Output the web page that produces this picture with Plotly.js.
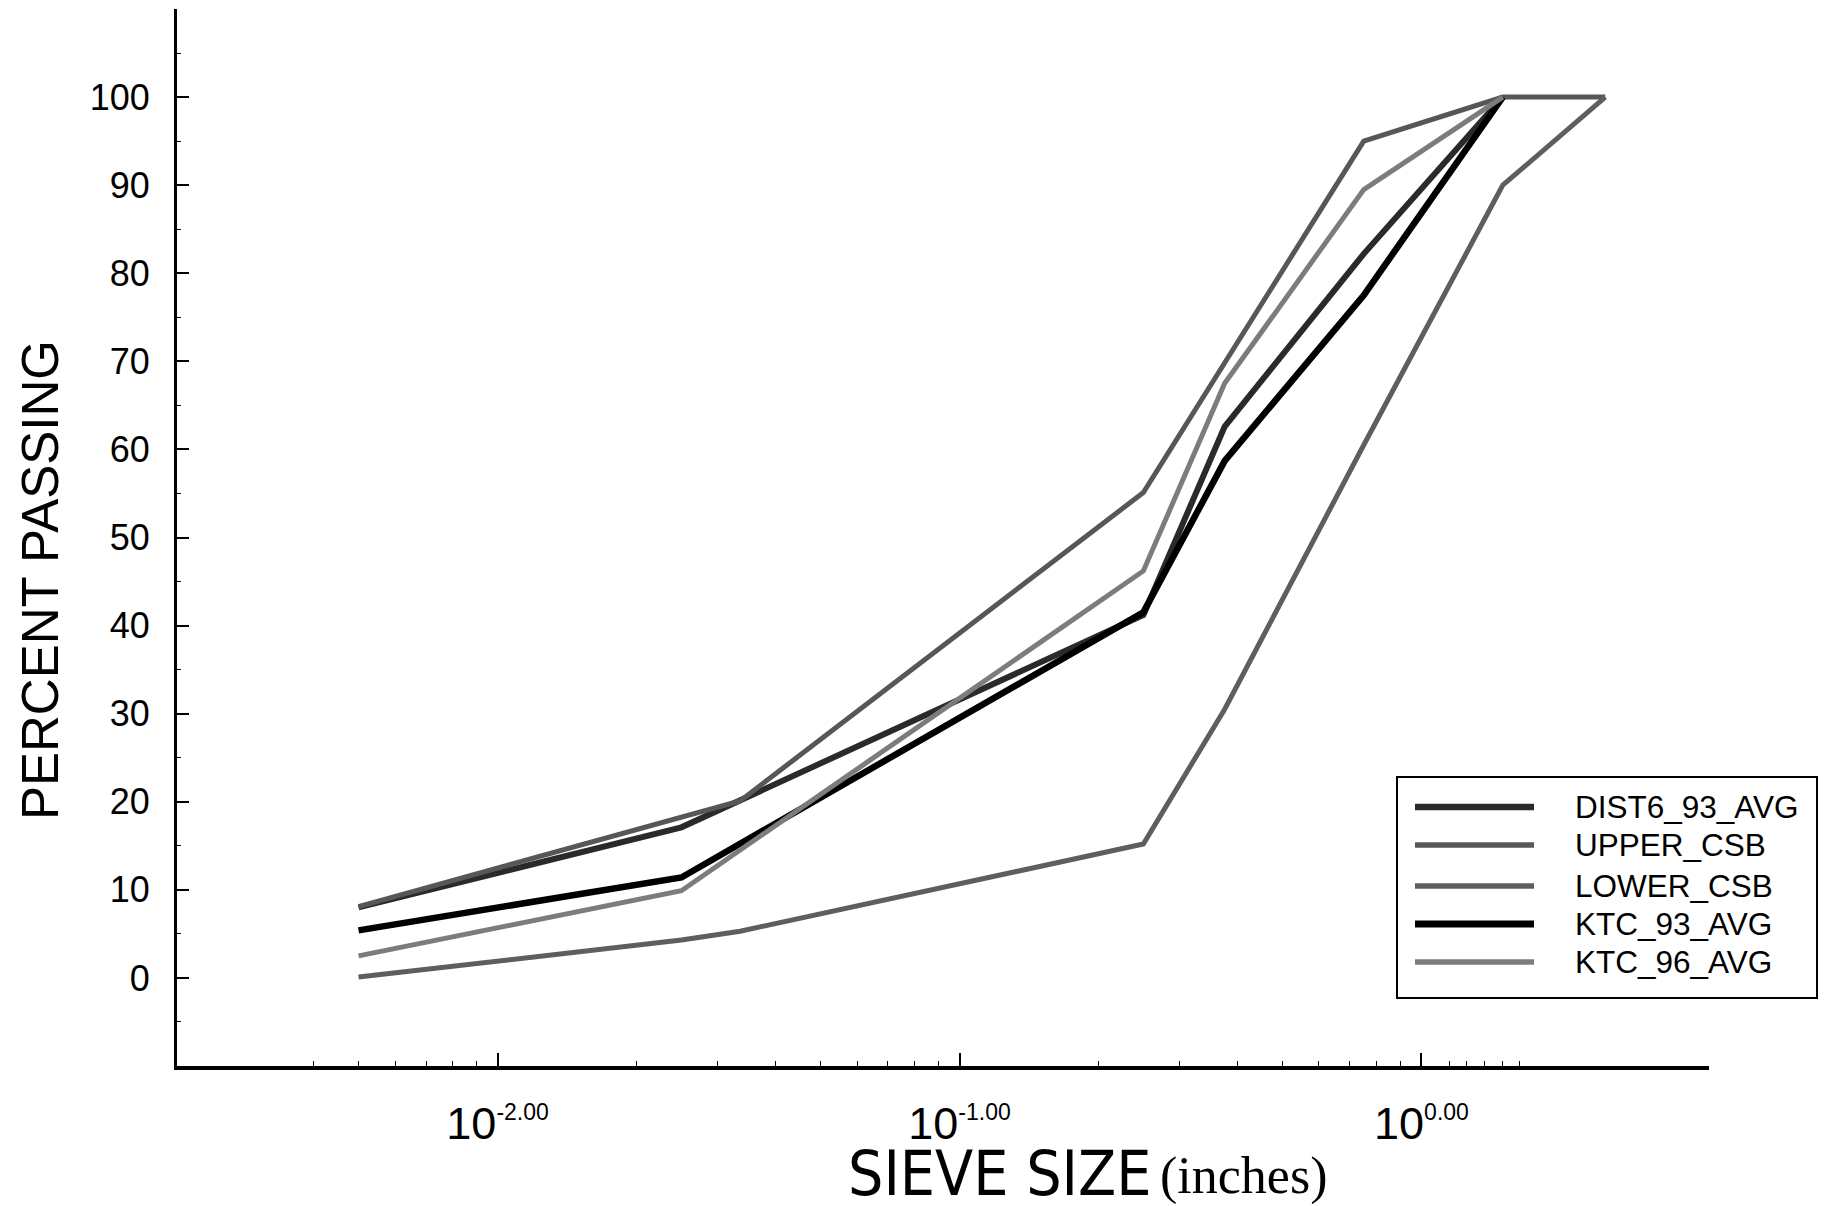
<!DOCTYPE html>
<html>
<head>
<meta charset="utf-8">
<script src="https://cdn.plot.ly/plotly-3.0.1.min.js"></script>
<style>html,body{margin:0;padding:0;background:#fff;}#chart{width:1826px;height:1206px;}</style>
</head>
<body>
<div id="chart"></div>
<script>
// ---- data ----
var seriesNames = ["DIST6_93_AVG", "UPPER_CSB", "LOWER_CSB", "KTC_93_AVG", "KTC_96_AVG"];

var dist6X = [0.005, 0.025, 0.25, 0.375, 0.75, 1.5];
var dist6Y = [8.0, 17.1, 41.2, 62.6, 82.2, 100];

var upperX = [0.005, 0.025, 0.0335, 0.25, 0.75, 1.5, 2.5];
var upperY = [8.1, 18.2, 20.1, 55.1, 95.0, 100, 100];

var lowerX = [0.005, 0.025, 0.0335, 0.25, 0.375, 0.75, 1.5, 2.5];
var lowerY = [0.1, 4.3, 5.3, 15.2, 30.5, 60.5, 90.0, 100];

var ktc93X = [0.005, 0.025, 0.25, 0.375, 0.75, 1.5];
var ktc93Y = [5.4, 11.4, 41.5, 58.7, 77.5, 100];

var ktc96X = [0.005, 0.025, 0.25, 0.375, 0.75, 1.5];
var ktc96Y = [2.5, 9.9, 46.2, 67.5, 89.5, 100];

var xTickVals = [0.01, 0.1, 1];
var xTickExp = ["-2.00", "-1.00", "0.00"];
var yTickVals = [0, 10, 20, 30, 40, 50, 60, 70, 80, 90, 100];

// ---- styles ----
var colors = ["#2a2a2a", "#575757", "#5e5e5e", "#000000", "#7c7c7c"];
var widths = [6, 5, 5, 6.5, 5];
var xs = [dist6X, upperX, lowerX, ktc93X, ktc96X];
var ys = [dist6Y, upperY, lowerY, ktc93Y, ktc96Y];

var traces = seriesNames.map(function (n, i) {
  return {
    type: "scatter", mode: "lines", name: n,
    x: xs[i], y: ys[i],
    line: { color: colors[i], width: widths[i] },
    hoverinfo: "skip"
  };
});

var W = 1826, H = 1206;
var M = { l: 177, r: 117, t: 9, b: 140 };
var PW = W - M.l - M.r, PH = H - M.t - M.b;
function px(x) { return (x - M.l) / PW; }
function py(y) { return (H - M.b - y) / PH; }

var minorX = [0.004, 0.005, 0.006, 0.007, 0.008, 0.009,
  0.02, 0.03, 0.04, 0.05, 0.06, 0.07, 0.08, 0.09,
  0.2, 0.3, 0.4, 0.5, 0.6, 0.7, 0.8, 0.9,
  1.15, 1.25, 1.37, 1.5, 1.63];
var minorY = [-5, 5, 15, 25, 35, 45, 55, 65, 75, 85, 95, 105];

// legend (drawn as shapes + text)
var legRows = [807, 845, 886, 924, 962];
var shapes = [{
  type: "rect", xref: "paper", yref: "paper",
  x0: px(1397), x1: px(1817), y0: py(998), y1: py(777),
  line: { color: "#000", width: 2 }, fillcolor: "rgba(0,0,0,0)"
}];
var annotations = [];
seriesNames.forEach(function (n, i) {
  shapes.push({
    type: "line", xref: "paper", yref: "paper",
    x0: px(1415), x1: px(1534), y0: py(legRows[i]), y1: py(legRows[i]),
    line: { color: colors[i], width: widths[i] + 0.5 }
  });
  annotations.push({
    xref: "paper", yref: "paper", x: px(1573), y: py(legRows[i]),
    xanchor: "left", yanchor: "middle", showarrow: false, text: n,
    font: { family: "Liberation Sans, Arial, sans-serif", size: 31.5, color: "#000" }
  });
});

// axis titles
annotations.push({
  xref: "paper", yref: "paper", x: px(40), y: py(580),
  xanchor: "center", yanchor: "middle", showarrow: false, textangle: -90,
  text: "PERCENT PASSING",
  font: { family: "Liberation Sans, Arial, sans-serif", size: 51, color: "#000" }
});
annotations.push({
  xref: "paper", yref: "paper", x: px(846), y: py(1173),
  xanchor: "left", yanchor: "middle", showarrow: false,
  text: "SIEVE SIZE",
  font: { family: "Liberation Sans Narrow, Arial Narrow, DejaVu Sans Condensed, sans-serif", size: 62, color: "#000" }
});
annotations.push({
  xref: "paper", yref: "paper", x: px(1158), y: py(1176),
  xanchor: "left", yanchor: "middle", showarrow: false,
  text: "(inches)",
  font: { family: "Liberation Serif, Times New Roman, serif", size: 52, color: "#000" }
});

var layout = {
  width: W, height: H,
  margin: M,
  paper_bgcolor: "#fff", plot_bgcolor: "#fff",
  showlegend: false,
  xaxis: {
    type: "log", range: [-2.694, 0.6225],
    showline: true, linewidth: 4, linecolor: "#000", mirror: false,
    showgrid: false, zeroline: false,
    ticks: "inside", ticklen: 13, tickwidth: 2, tickcolor: "#000",
    tickmode: "array", tickvals: xTickVals,
    ticktext: xTickExp.map(function (e) { return '10<sup><span style="font-size:23px">' + e + '</span></sup>'; }),
    tickfont: { family: "Liberation Sans, Arial, sans-serif", size: 45, color: "#000" },
    ticklabelstandoff: 15,
    minor: { ticks: "inside", ticklen: 5, tickwidth: 1, tickcolor: "#000", tickmode: "array", tickvals: minorX, showgrid: false }
  },
  yaxis: {
    range: [-10, 110],
    showline: true, linewidth: 3, linecolor: "#000", mirror: false,
    showgrid: false, zeroline: false,
    ticks: "inside", ticklen: 12, tickwidth: 2, tickcolor: "#000",
    tickmode: "array", tickvals: yTickVals,
    tickfont: { family: "Liberation Sans, Arial, sans-serif", size: 36, color: "#000" },
    ticklabelstandoff: 17,
    minor: { ticks: "inside", ticklen: 4, tickwidth: 1, tickcolor: "#000", tickmode: "array", tickvals: minorY, showgrid: false }
  },
  shapes: shapes,
  annotations: annotations
};

Plotly.newPlot("chart", traces, layout, { displayModeBar: false, staticPlot: true });
</script>
</body>
</html>
